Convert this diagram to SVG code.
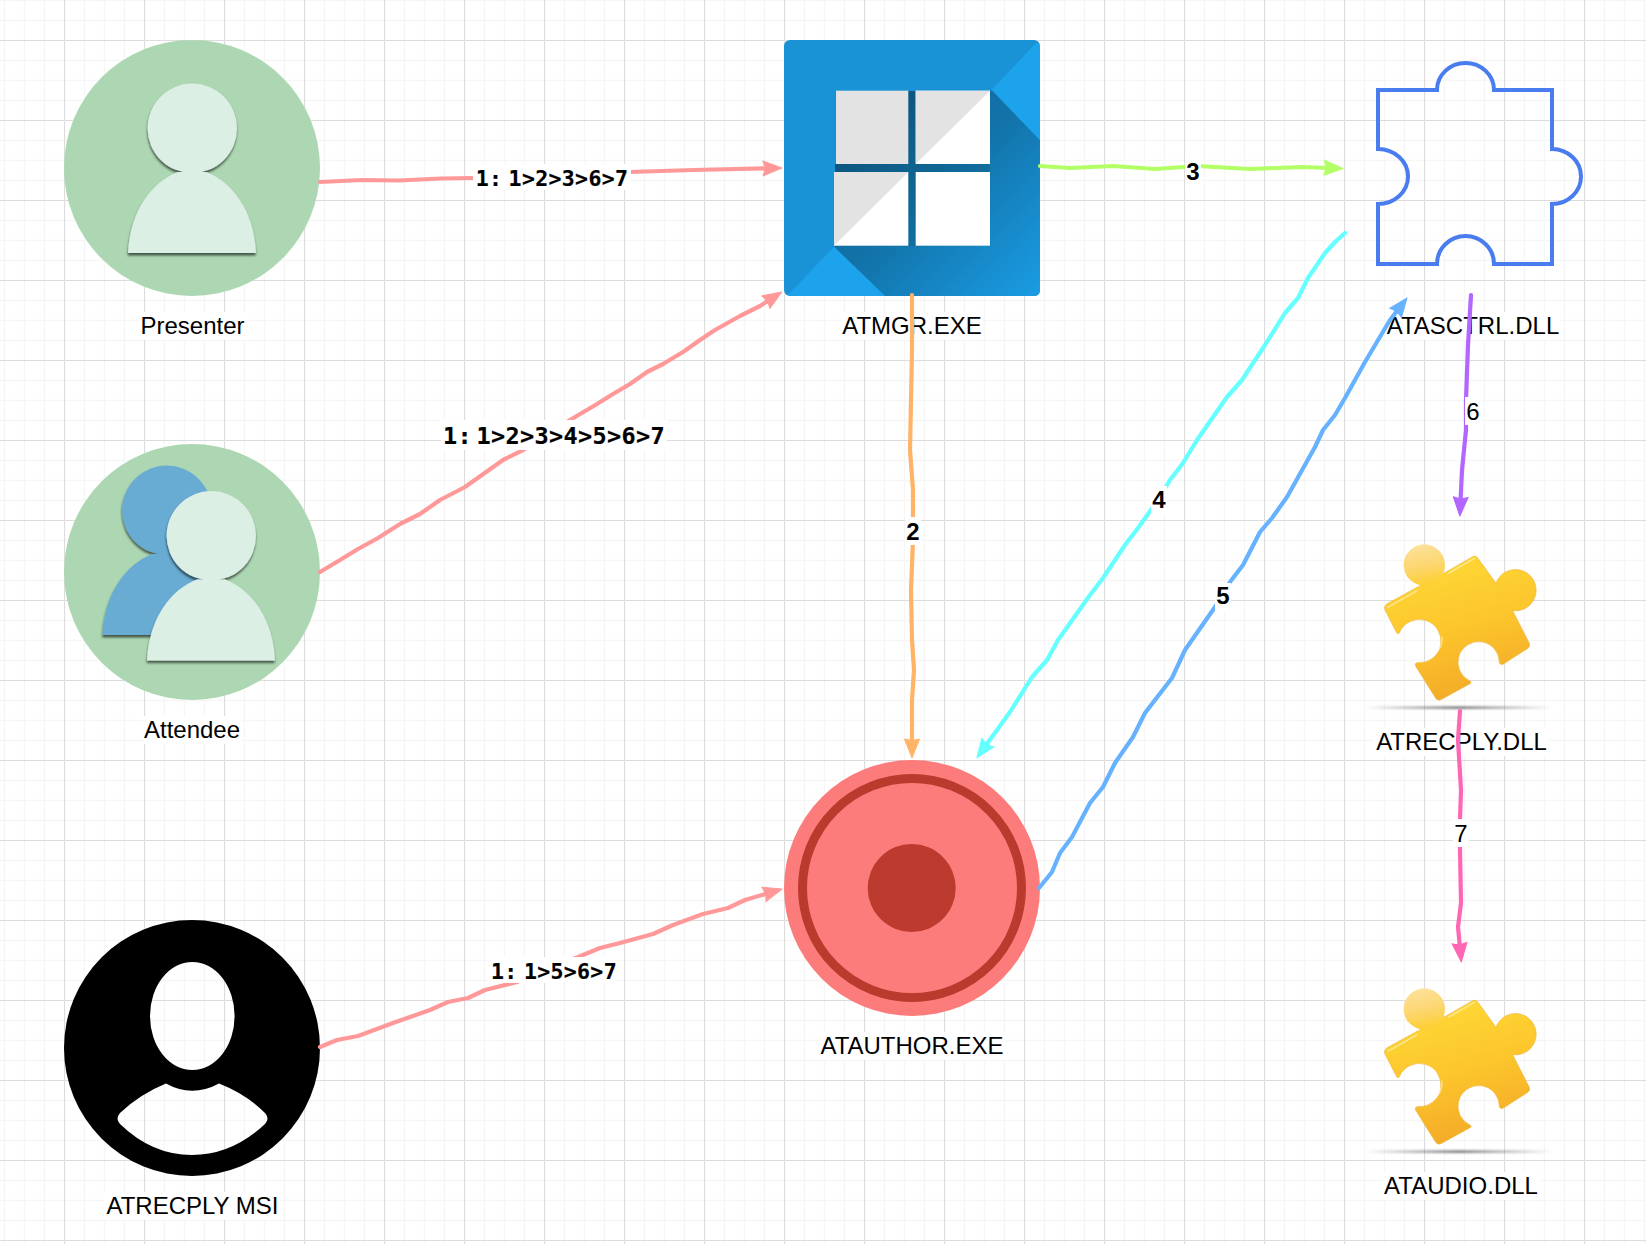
<svg xmlns="http://www.w3.org/2000/svg" width="1646" height="1244" viewBox="0 0 1646 1244">
<style>
.lbl{font-family:"Liberation Sans",Arial,sans-serif;font-size:24px;fill:#000;text-anchor:middle}
.b{font-weight:bold}
.hand{font-family:"DejaVu Sans Mono",monospace;font-weight:bold;fill:#000;stroke:#000;stroke-width:.2;text-anchor:middle}
.bg{fill:#fff}
.c{fill:none;stroke-width:4.200;stroke-linecap:round;stroke-linejoin:round}
.ah{stroke-linejoin:round;stroke-width:1}
</style>
<defs>
<pattern id="grid" x="64" y="40" width="80" height="80" patternUnits="userSpaceOnUse">
<path d="M20 0V80M40 0V80M60 0V80M0 20H80M0 40H80M0 60H80" transform="translate(.5 .5)" stroke="#f6f6f6" stroke-width="1.4" fill="none"/>
<path d="M0 0V80M0 0H80" transform="translate(.5 .5)" stroke="#dcdcdc" stroke-width="1.2" fill="none"/>
</pattern>
<filter id="ds" x="-15%" y="-15%" width="130%" height="130%"><feDropShadow dx="-.3" dy="2.500" stdDeviation="1" flood-color="#000" flood-opacity=".6"/></filter>
<filter id="blurV" x="-5%" y="-200%" width="110%" height="500%"><feGaussianBlur stdDeviation="2 3"/></filter>
<filter id="soft" x="-5%" y="-5%" width="110%" height="110%"><feGaussianBlur stdDeviation=".5"/></filter>
<g id="person"><circle cx="192.300" cy="128.300" r="44.700"/><path d="M128 253C130 210 152 182 178 172L206 172C232 182 254 210 256 253Z"/></g>
<linearGradient id="shade" x1="0" y1="0" x2="1" y2="1"><stop offset="0" stop-color="#0e5f90"/><stop offset=".5" stop-color="#1274aa"/><stop offset="1" stop-color="#1a9ce4"/></linearGradient>
<linearGradient id="gapg" x1="0" y1="0" x2="1" y2="1"><stop offset="0" stop-color="#0b4a72"/><stop offset="1" stop-color="#137bad"/></linearGradient>
<linearGradient id="yel" x1=".35" y1="0" x2=".65" y2="1"><stop offset="0" stop-color="#fed936"/><stop offset=".5" stop-color="#fcc52c"/><stop offset="1" stop-color="#f2a727"/></linearGradient>
<linearGradient id="headg" x1="0" y1="0" x2=".2" y2="1"><stop offset="0" stop-color="#fde3a0"/><stop offset=".6" stop-color="#fcd670"/><stop offset="1" stop-color="#fdd038"/></linearGradient>
<linearGradient id="shadowg"><stop offset="0" stop-color="#666" stop-opacity="0"/><stop offset=".5" stop-color="#666" stop-opacity=".85"/><stop offset="1" stop-color="#666" stop-opacity="0"/></linearGradient>
<g id="piece">
<rect x="72" y="559" width="568" height="8" fill="url(#shadowg)" filter="url(#blurV)"/>
<path d="M140 252L235 200L320 155L398 110Q408 105 414 115L468 190A62 62 0 1 1 518 272L568 370Q572 380 562 386L490 432Q482 437 478 428A62 62 0 1 0 390 483Q397 487 390 491L305 538Q296 544 288 536L228 440Q222 430 232 428A65 65 0 1 0 178 338Q175 345 170 338L135 270Q130 260 140 252Z" fill="url(#yel)" stroke="#eeb53c" stroke-width="2"/>
<circle cx="253" cy="135" r="62" fill="url(#headg)"/>
<path d="M143 262L232 212M325 160L405 114M305 350Q312 395 255 422" fill="none" stroke="#fff" stroke-opacity=".5" stroke-width="4"/>
</g>
<marker id="mRed" markerUnits="userSpaceOnUse" markerWidth="24" markerHeight="20" refX="6" refY="10" orient="auto"><path class="ah" fill="#ff9999" stroke="#ff9999" d="M1 2.500L20 10L1 17.500Q4 10 1 2.500Z"/></marker>
<marker id="mOrange" markerUnits="userSpaceOnUse" markerWidth="24" markerHeight="20" refX="6" refY="10" orient="auto"><path class="ah" fill="#ffb366" stroke="#ffb366" d="M1 2.500L20 10L1 17.500Q4 10 1 2.500Z"/></marker>
<marker id="mGreen" markerUnits="userSpaceOnUse" markerWidth="24" markerHeight="20" refX="6" refY="10" orient="auto"><path class="ah" fill="#b3ff66" stroke="#b3ff66" d="M1 2.500L20 10L1 17.500Q4 10 1 2.500Z"/></marker>
<marker id="mCyan" markerUnits="userSpaceOnUse" markerWidth="24" markerHeight="20" refX="6" refY="10" orient="auto"><path class="ah" fill="#66ffff" stroke="#66ffff" d="M1 2.500L20 10L1 17.500Q4 10 1 2.500Z"/></marker>
<marker id="mBlue" markerUnits="userSpaceOnUse" markerWidth="24" markerHeight="20" refX="6" refY="10" orient="auto"><path class="ah" fill="#66b2ff" stroke="#66b2ff" d="M1 2.500L20 10L1 17.500Q4 10 1 2.500Z"/></marker>
<marker id="mPurple" markerUnits="userSpaceOnUse" markerWidth="24" markerHeight="20" refX="6" refY="10" orient="auto"><path class="ah" fill="#b266ff" stroke="#b266ff" d="M1 2.500L20 10L1 17.500Q4 10 1 2.500Z"/></marker>
<marker id="mPink" markerUnits="userSpaceOnUse" markerWidth="24" markerHeight="20" refX="6" refY="10" orient="auto"><path class="ah" fill="#ff66b3" stroke="#ff66b3" d="M1 2.500L20 10L1 17.500Q4 10 1 2.500Z"/></marker>
</defs>

<rect id="background" width="1646" height="1244" fill="#fff"/>
<rect id="gridlines" width="1646" height="1244" fill="url(#grid)"/>

<g id="presenter">
<circle cx="192" cy="168" r="128" fill="#acd7b2"/>
<use href="#person" fill="#dcefe5" filter="url(#ds)"/>
<rect class="bg" x="140" y="312" width="105" height="28"/>
<text class="lbl" x="192.500" y="334">Presenter</text>
</g>
<g id="attendee">
<circle cx="192" cy="572" r="128" fill="#acd7b2"/>
<use href="#person" x="-25.500" y="382" fill="#68abd3" filter="url(#ds)"/>
<use href="#person" x="19" y="407.500" fill="#dcefe5" filter="url(#ds)"/>
<rect class="bg" x="143" y="716" width="98" height="28"/>
<text class="lbl" x="192" y="738">Attendee</text>
</g>
<g id="atrecply-msi">
<path fill="#000" fill-rule="evenodd" d="M64 1048A128 128 0 1 0 320 1048A128 128 0 1 0 64 1048ZM150 1016A42.300 54 0 1 0 234.600 1016A42.300 54 0 1 0 150 1016ZM166 1083.500Q192 1098 219 1083.500Q246 1094 265 1113Q270 1119 265 1124Q232 1155 192 1155Q152 1155 120 1124Q115 1119 120 1113Q140 1094 166 1083.500Z"/>
<rect class="bg" x="104" y="1192" width="176" height="28"/>
<text class="lbl" x="192.500" y="1214">ATRECPLY MSI</text>
</g>
<g id="atmgr">
<rect x="784" y="40" width="256" height="256" rx="6" fill="#1a93d6"/>
<path d="M991.700 90L1040 140V290Q1040 296 1034 296H885L834 247Z" fill="url(#shade)"/>
<path d="M1040 45V140L991.700 90L1036 43Z" fill="#1ca3ec"/>
<path d="M788 295L834 246.700L885 296H792Z" fill="#1ca3ec"/>
<rect x="835" y="91" width="155" height="155" fill="url(#gapg)"/>
<g filter="url(#soft)">
<rect x="835.700" y="90.700" width="72.600" height="73.300" fill="#e3e3e3"/>
<rect x="915.700" y="90.700" width="74.300" height="73.300" fill="#fff"/>
<path d="M915.700 90.700H990L915.700 164Z" fill="#e3e3e3"/>
<rect x="834" y="172" width="74.300" height="73.700" fill="#fff"/>
<path d="M834 172H908.300L834 245.700Z" fill="#e3e3e3"/>
<rect x="915.700" y="172" width="74.300" height="73.700" fill="#fff"/>
</g>
<rect class="bg" x="841" y="312" width="142" height="28"/>
<text class="lbl" x="912" y="334">ATMGR.EXE</text>
</g>
<g id="atasctrl">
<path d="M1378 90H1437A28.500 27 0 0 1 1494 90H1552V149A29 27.500 0 0 1 1552 204V264H1494A28.500 28 0 0 0 1437 264H1378V204A30 27.500 0 0 0 1378 149Z" fill="none" stroke="#4a7bee" stroke-width="4" filter="url(#soft)"/>
<rect class="bg" x="1386" y="312" width="174" height="28"/>
<text class="lbl" x="1473" y="334">ATASCTRL.DLL</text>
</g>
<g id="atauthor">
<circle cx="912" cy="888" r="128" fill="#fc7c7c"/>
<circle cx="912" cy="888" r="109.500" fill="none" stroke="#ba3a2e" stroke-width="9"/>
<circle cx="911.700" cy="888" r="44" fill="#bc3a2e"/>
<rect class="bg" x="819" y="1032" width="186" height="28"/>
<text class="lbl" x="912" y="1054">ATAUTHOR.EXE</text>
</g>
<g id="atrecply-dll">
<use href="#piece" transform="translate(1340 520) scale(.3333)"/>
<rect class="bg" x="1374" y="728" width="175" height="28"/>
<text class="lbl" x="1461.500" y="750">ATRECPLY.DLL</text>
</g>
<g id="ataudio-dll">
<use href="#piece" transform="translate(1340 964) scale(.3333)"/>
<rect class="bg" x="1383" y="1172" width="156" height="28"/>
<text class="lbl" x="1461" y="1194">ATAUDIO.DLL</text>
</g>

<g id="connectors">
<polyline class="c" stroke="#ff9999" marker-end="url(#mRed)" points="320,182 362,180 399,180.500 441,178.500 472,178 550,176 630,172 693,170 768,168.300"/>
<polyline class="c" stroke="#ff9999" marker-end="url(#mRed)" points="320,572 340,560 358,549 378,538 400,524 420,514 440,500 465,487 503,460 523,450 570,420 597,404 613,394 630,384 647,372 663,364 683,352 700,340 715,330 740,316 760,306 770,299.500"/>
<polyline class="c" stroke="#ff9999" marker-end="url(#mRed)" points="320,1047 337,1040 358,1036 393,1023 430,1010 448,1002 468,998 485,990 517,982 583,955 600,948 620,943 653,934 673,925 703,914 728,908 745,900 768.600,893"/>
<polyline class="c" stroke="#ffb366" marker-end="url(#mOrange)" points="912,295 912,350 911,400 910,450 913,490 913,540 911,590 912,640 914,670 912,700 912,744"/>
<polyline class="c" stroke="#b3ff66" marker-end="url(#mGreen)" points="1040,166 1070,168 1113,166 1155,169 1197,166 1250,169 1302,167 1329,168"/>
<polyline class="c" stroke="#66ffff" marker-end="url(#mCyan)" points="1345,233 1335,242 1325,253 1308,278 1298,298 1285,313 1265,345 1242,380 1227,397 1197,440 1183,463 1170,480 1158,500 1138,528 1125,545 1103,578 1090,595 1058,640 1047,660 1032,677 1010,712 985,746.600"/>
<polyline class="c" stroke="#66b2ff" marker-end="url(#mBlue)" points="1039,888 1052,872 1060,853 1072,837 1090,803 1103,787 1115,763 1133,737 1145,713 1155,700 1172,678 1185,650 1215,607 1230,582 1243,565 1260,532 1272,518 1287,497 1315,447 1323,430 1335,415 1345,398 1365,362 1390,320 1398.500,309"/>
<polyline class="c" stroke="#b266ff" marker-end="url(#mPurple)" points="1471,295 1468,345 1466,400 1466,430 1462,470 1460.500,502"/>
<polyline class="c" stroke="#ff66b3" marker-end="url(#mPink)" points="1460,711 1458,740 1461,790 1460,820 1460,850 1461,903 1458,927 1460,948"/>

<g id="edge-labels">
<rect class="bg" x="473" y="164" width="158" height="26"/>
<text class="hand" x="552" y="186" font-size="21.500" letter-spacing=".35" word-spacing="-7">1: 1&gt;2&gt;3&gt;6&gt;7</text>
<rect class="bg" x="441" y="420" width="226" height="30"/>
<text class="hand" x="554" y="444" font-size="23.500" letter-spacing=".35" word-spacing="-10">1: 1&gt;2&gt;3&gt;4&gt;5&gt;6&gt;7</text>
<rect class="bg" x="491" y="957" width="126" height="26"/>
<text class="hand" x="554" y="979" font-size="21.500" letter-spacing=".35" word-spacing="-7">1: 1&gt;5&gt;6&gt;7</text>
<rect class="bg" x="905" y="517" width="16" height="28"/>
<text class="lbl b" x="913" y="540">2</text>
<rect class="bg" x="1185" y="157" width="16" height="28"/>
<text class="lbl b" x="1193" y="180">3</text>
<rect class="bg" x="1151" y="486" width="16" height="28"/>
<text class="lbl b" x="1159" y="508">4</text>
<rect class="bg" x="1215" y="583" width="16" height="28"/>
<text class="lbl b" x="1223" y="604">5</text>
<rect class="bg" x="1465" y="397" width="16" height="28"/>
<text class="lbl" x="1473" y="420">6</text>
<rect class="bg" x="1453" y="819" width="16" height="28"/>
<text class="lbl" x="1461" y="842">7</text>
</g>
</g>
</svg>
